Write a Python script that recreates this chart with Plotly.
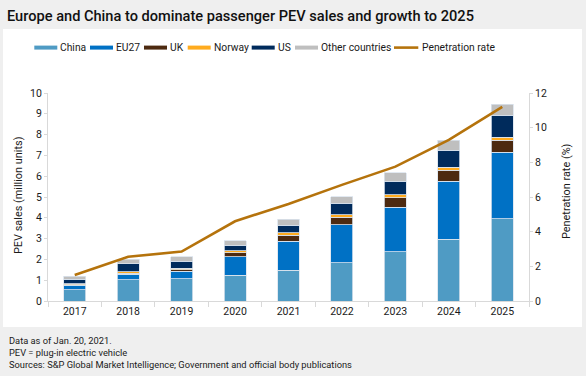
import plotly.graph_objects as go

years = ["2017", "2018", "2019", "2020", "2021", "2022", "2023", "2024", "2025"]
china = [0.53, 1.01, 1.06, 1.24, 1.49, 1.83, 2.36, 2.98, 3.96]
eu27 = [0.22, 0.27, 0.37, 0.89, 1.39, 1.84, 2.15, 2.78, 3.18]
uk = [0.04, 0.06, 0.07, 0.18, 0.27, 0.36, 0.45, 0.52, 0.58]
norway = [0.05, 0.07, 0.08, 0.10, 0.12, 0.12, 0.14, 0.15, 0.15]
us = [0.20, 0.38, 0.32, 0.26, 0.38, 0.55, 0.66, 0.82, 1.05]
other = [0.15, 0.21, 0.23, 0.23, 0.27, 0.32, 0.40, 0.47, 0.53]
penetration = [1.5, 2.55, 2.85, 4.6, 5.6, 6.7, 7.75, 9.3, 11.2]

series_names = ["China", "EU27", "UK", "Norway", "US", "Other countries"]
series_values = [china, eu27, uk, norway, us, other]
series_colors = ["#4f9bc4", "#0071c5", "#4d2a10", "#ffab1e", "#002b5c", "#bfbfbf"]
line_name = "Penetration rate"
line_color = "#b5730c"

title_text = "Europe and China to dominate passenger PEV sales and growth to 2025"
notes = [
    "Data as of Jan. 20, 2021.",
    "PEV = plug-in electric vehicle",
    "Sources: S&P Global Market Intelligence; Government and official body publications",
]

W, H = 586, 376
L, R, T, B = 48, 57, 93, 75
PW, PH = W - L - R, H - T - B


def px(x):
    return (x - L) / PW


def py(y):
    return (H - B - y) / PH


FONT = "Roboto, sans-serif"
TXT = "#1a1a1a"

fig = go.Figure()
for name, vals, col in zip(series_names, series_values, series_colors):
    fig.add_trace(go.Bar(
        x=years, y=vals, name=name, marker_color=col,
        marker_line=dict(color="#dbe4ee", width=0.8),
        showlegend=False,
    ))
fig.add_trace(go.Scatter(
    x=years, y=penetration, name=line_name, yaxis="y2", mode="lines",
    line=dict(color=line_color, width=2.6), showlegend=False,
))

shapes = [dict(type="rect", xref="paper", yref="paper", x0=px(3), x1=px(582),
               y0=py(327), y1=py(29), fillcolor="white", line_width=0, layer="below")]
annotations = []

# manual legend
sw_x = [34.3, 90, 144, 187.7, 251.7, 295]
sw_y0, sw_y1 = 45.6, 49.6
for xs, name, col in zip(sw_x, series_names, series_colors):
    shapes.append(dict(type="rect", xref="paper", yref="paper", x0=px(xs), x1=px(xs + 23),
                       y0=py(sw_y1), y1=py(sw_y0), fillcolor=col, line_width=0))
    annotations.append(dict(text=name, xref="paper", yref="paper", x=px(xs + 24), y=py(47.6),
                            xanchor="left", yanchor="middle", showarrow=False,
                            font=dict(size=10.3, color=TXT, family=FONT)))
shapes.append(dict(type="line", xref="paper", yref="paper", x0=px(394), x1=px(418.3),
                   y0=py(47.6), y1=py(47.6), line=dict(color=line_color, width=2.6)))
annotations.append(dict(text=line_name, xref="paper", yref="paper", x=px(419.7), y=py(47.6),
                        xanchor="left", yanchor="middle", showarrow=False,
                        font=dict(size=10.3, color=TXT, family=FONT)))

# axis titles
annotations.append(dict(text="PEV sales (million units)", xref="paper", yref="paper",
                        x=px(18), y=py(195), textangle=-90, showarrow=False,
                        xanchor="center", yanchor="middle",
                        font=dict(size=10.9, color=TXT, family=FONT)))
annotations.append(dict(text="Penetration rate (%)", xref="paper", yref="paper",
                        x=px(566), y=py(191), textangle=-90, showarrow=False,
                        xanchor="center", yanchor="middle",
                        font=dict(size=10.9, color=TXT, family=FONT)))

# footnotes
for i, n in enumerate(notes):
    annotations.append(dict(text=n, xref="paper", yref="paper", x=px(6.5), y=py(340 + 12 * i),
                            xanchor="left", yanchor="middle", showarrow=False,
                            font=dict(size=9.3, color=TXT, family=FONT)))

axis_grey = "#d9d9d9"
fig.update_layout(
    width=W, height=H,
    margin=dict(l=L, r=R, t=T, b=B, pad=0),
    paper_bgcolor="#efefef", plot_bgcolor="white",
    barmode="stack", bargap=0.59,
    font=dict(family=FONT, size=10.5, color=TXT),
    title=dict(text=title_text, xref="container", yref="container", x=7 / W, y=1 - 16 / H,
               xanchor="left", yanchor="middle",
               font=dict(size=14.6, color="#111111", family=FONT, weight=500)),
    xaxis=dict(type="category", showline=True, linecolor=axis_grey, linewidth=1,
               ticks="outside", tickson="boundaries", ticklen=5, tickcolor=axis_grey,
               showgrid=False, tickfont=dict(size=10.5)),
    yaxis=dict(range=[0, 10], dtick=1, showline=True, linecolor=axis_grey, linewidth=1,
               ticks="outside", ticklen=3, tickcolor=axis_grey, showgrid=False,
               zeroline=False, tickfont=dict(size=10.5)),
    yaxis2=dict(range=[0, 12], dtick=2, overlaying="y", side="right", showline=True,
                linecolor=axis_grey, linewidth=1, ticks="outside", ticklen=3,
                tickcolor=axis_grey, showgrid=False, zeroline=False,
                tickfont=dict(size=10.5)),
    shapes=shapes, annotations=annotations,
    showlegend=False,
)

fig.write_html("out.html", config={"displayModeBar": False},
               post_script="document.body.style.margin='0';")
